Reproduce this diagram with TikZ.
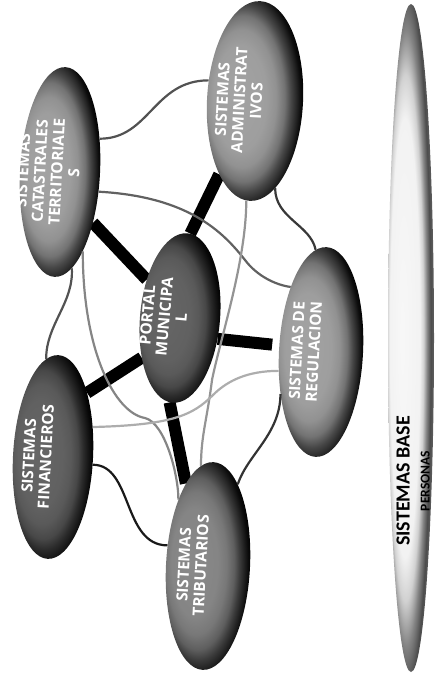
\documentclass[tikz,border=0pt]{standalone}
\usepackage{fontspec}
\setmainfont{Open Sans}
\newfontfamily\basefont{Carlito}
\usetikzlibrary{shapes.geometric, backgrounds}

\pgfdeclareradialshading{ovallight}{\pgfpoint{-10bp}{1bp}}{color(0bp)=(black!36); color(13bp)=(black!38); color(17bp)=(black!43); color(20.5bp)=(black!55); color(23bp)=(black!72); color(25.5bp)=(black!86); color(27bp)=(black!95); color(28.7bp)=(black); color(50bp)=(black)}
\pgfdeclareradialshading{ovalmid}{\pgfpoint{-10bp}{1bp}}{color(0bp)=(black!46); color(13bp)=(black!48); color(17bp)=(black!53); color(20.5bp)=(black!63); color(23bp)=(black!77); color(25.5bp)=(black!89); color(27bp)=(black!96); color(28.7bp)=(black); color(50bp)=(black)}
\pgfdeclareradialshading{ovaldark}{\pgfpoint{-10bp}{1bp}}{color(0bp)=(black!60); color(13bp)=(black!62); color(17bp)=(black!65); color(20.5bp)=(black!72); color(23bp)=(black!83); color(25.5bp)=(black!92); color(27bp)=(black!97); color(28.7bp)=(black); color(50bp)=(black)}
\pgfdeclareradialshading{baseshade}{\pgfpoint{-10bp}{0bp}}{color(0bp)=(black!3); color(16.4bp)=(black!5); color(19.7bp)=(black!18); color(23bp)=(black!48); color(26.2bp)=(black!70); color(29.5bp)=(black!62); color(50bp)=(black!62)}

\newcommand{\ovaltext}[2][10pt]{\makebox[0pt]{\raisebox{#1}[0pt][0pt]{\begin{tabular}{@{}c@{}}#2\end{tabular}}}}

\tikzset{
	oval/.style = {ellipse, shade, shading = ovallight, rotate = 87, inner sep = 0pt, text = white, font = \bfseries\fontsize{15.5}{17}\selectfont},
	bar/.style = {line width = 12pt, black},
	wire/.style = {line width = 2.2pt, black!70},
	pale/.style = {line width = 2.2pt, black!42}
}

\begin{document}
\begin{tikzpicture}[x = 1pt, y = 1pt]
	\useasboundingbox (0, 0) rectangle (436, -689);
	\node[oval, minimum width = 210pt, minimum height = 80pt] (cat) at (60, -172) {\ovaltext[6pt]{SISTEMAS\\CATASTRALES\\TERRITORIALE\\S}};
	\node[oval, minimum width = 200pt, minimum height = 96pt] (adm) at (255, -101) {\ovaltext{SISTEMAS\\ADMINISTRAT\\IVOS}};
	\node[oval, shading = ovaldark, rotate = -2, minimum width = 170pt, minimum height = 80pt] (port) at (180, -318) {\ovaltext{PORTAL\\MUNICIPA\\L}};
	\node[oval, minimum width = 210pt, minimum height = 84pt] (reg) at (321, -352) {\ovaltext{SISTEMAS DE\\REGULACION}};
	\node[oval, shading = ovaldark, minimum width = 204pt, minimum height = 80pt] (fin) at (53, -457) {\ovaltext{SISTEMAS\\FINANCIEROS}};
	\node[oval, shading = ovalmid, minimum width = 208pt, minimum height = 84pt] (trib) at (208, -566) {\ovaltext{SISTEMAS\\TRIBUTARIOS}};
	\node[ellipse, shade, shading = baseshade, rotate = 90, inner sep = 0pt, minimum width = 668pt, minimum height = 46pt] (base) at (411, -338) {};
	\node[rotate = 90, align = center, inner sep = 0pt, font = \basefont\bfseries\fontsize{20}{20}\selectfont] (basetxt) at (413, -481) {SISTEMAS BASE\\{\fontsize{13.5}{20}\selectfont PERSONAS}};
	\begin{scope}[on background layer]
		\draw[bar] (port.46.5) -- (cat.-144.5);
		\draw[bar] (port.-2.3) -- (adm.157);
		\draw[bar, shorten >= 7pt] (port.-114) -- (reg.84.7);
		\draw[bar] (port.141.4) -- (fin.-25);
		\draw[bar] (port.178) -- (trib.18);
	\end{scope}
	\draw[wire, black!68] (cat.-47) .. controls +(50, 0) and +(-55, 0) .. (adm.69);
	\draw[wire, black!62] (cat.-114) .. controls +(90, -5) and +(-22, 28) .. (245, -260) .. controls +(12, -16) and +(-15, 2) .. (reg.28.5);
	\draw[wire, black!68] (cat.-170) .. controls +(2, -35) and +(0, 35) .. (fin.7.6);
	\draw[wire, black!78] (adm.-164.7) .. controls +(0, -30) and +(-5, 25) .. (reg.6);
	\draw[wire, black!90] (fin.-98.6) .. controls +(40, 0) and +(-45, 0) .. (trib.66);
	\draw[wire, black!80] (reg.139) .. controls +(0, -40) and +(10, 30) .. (trib.-17);
	\draw[pale, black!48] (cat.-161.5) .. controls +(0, -100) and +(-30, 5) .. (145, -418) .. controls +(20, -5) and +(0, 25) .. (trib.27);
	\draw[pale] (adm.178.5) .. controls +(0, -60) and +(8, 40) .. (212, -380) .. controls +(-5, -40) and +(0, 30) .. (trib.7);
	\draw[pale, black!32] (fin.-50) .. controls +(80, 2) and +(-20, -20) .. (213, -395) .. controls +(15, 15) and +(-30, 0) .. (reg.117.5);
\end{tikzpicture}
\end{document}
